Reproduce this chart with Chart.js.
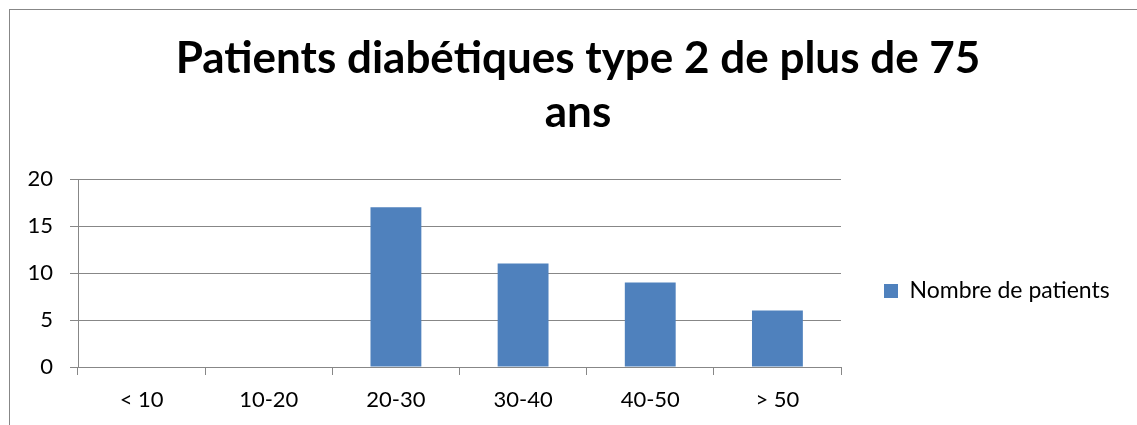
<!DOCTYPE html>
<html>
<head>
<meta charset="utf-8">
<script src="https://cdn.jsdelivr.net/npm/chart.js@4/dist/chart.umd.min.js"></script>
<style>
  html, body { margin: 0; padding: 0; background: #fff; overflow: hidden; width: 1137px; height: 425px; }
  #frame { position: absolute; left: 9px; top: 9px; width: 1200px; height: 500px; border-left: 1px solid #878787; border-top: 1px solid #878787; }
  #c { position: absolute; left: 10px; top: 10px; }
</style>
</head>
<body>
<div id="frame"></div>
<canvas id="c" width="1136" height="415"></canvas>
<script>
const titleLines = ['Patients diabétiques type 2 de plus de 75', 'ans'];
const categories = ['< 10', '10-20', '20-30', '30-40', '40-50', '> 50'];
const seriesLabel = 'Nombre de patients';
const patients = [0, 0, 17, 11, 9, 6];
const yTickValues = [0, 5, 10, 15, 20];

const FONT = 'Lato, "Open Sans", sans-serif';
const GRID = '#878787';
const LEGEND_PAD = 43;      // gap between plot area and legend marker
const LEGEND_BOX_W = 305;   // legend box width (plot area right edge = 1136 - 305)

// keep the legend box at a fixed width so the plot area and marker line up
const legendWidthPlugin = {
  id: 'legendWidth',
  beforeLayout(chart) {
    const lg = chart.legend;
    if (lg && !lg.__fixedWidth) {
      const fit = lg.fit;
      lg.fit = function () {
        fit.call(this);
        if (!this.isHorizontal()) this.width = LEGEND_BOX_W;
      };
      lg.__fixedWidth = true;
    }
  }
};

new Chart(document.getElementById('c'), {
  type: 'bar',
  data: {
    labels: categories,
    datasets: [{
      label: seriesLabel,
      data: patients,
      backgroundColor: '#4F81BD',
      borderWidth: 0,
      barPercentage: 0.4,
      categoryPercentage: 1.0
    }]
  },
  plugins: [legendWidthPlugin],
  options: {
    responsive: false,
    animation: false,
    devicePixelRatio: 1,
    layout: { padding: 0 },
    plugins: {
      title: {
        display: true,
        text: titleLines,
        color: '#000',
        font: { family: FONT, size: 44, weight: 'bold', lineHeight: 54 / 44 },
        padding: { top: 22, bottom: 39 }
      },
      legend: {
        display: true,
        position: 'right',
        fullSize: false,
        align: 'center',
        title: { display: true, text: '', font: { size: 12, lineHeight: 1 }, padding: { top: 24, bottom: 0 } },
        labels: {
          color: '#000',
          font: { family: FONT, size: 23 },
          boxWidth: 14,
          boxHeight: 14,
          padding: LEGEND_PAD
        }
      },
      tooltip: { enabled: false }
    },
    scales: {
      x: {
        grid: { offset: true, drawOnChartArea: false, drawTicks: true, tickLength: 8, color: GRID },
        border: { color: GRID },
        ticks: { color: '#000', font: { family: FONT, size: 22 }, padding: 12, maxRotation: 0 },
        afterFit: (s) => { s.height = 58; }
      },
      y: {
        min: 0,
        max: 20,
        position: 'left',
        grid: { color: GRID, tickLength: 8, drawTicks: true },
        border: { color: GRID },
        ticks: { color: '#000', font: { family: FONT, size: 22 }, padding: 17 },
        afterBuildTicks: (s) => { s.ticks = yTickValues.map(v => ({ value: v })); },
        afterFit: (s) => { s.width = 68; }
      }
    }
  }
});
</script>
</body>
</html>
